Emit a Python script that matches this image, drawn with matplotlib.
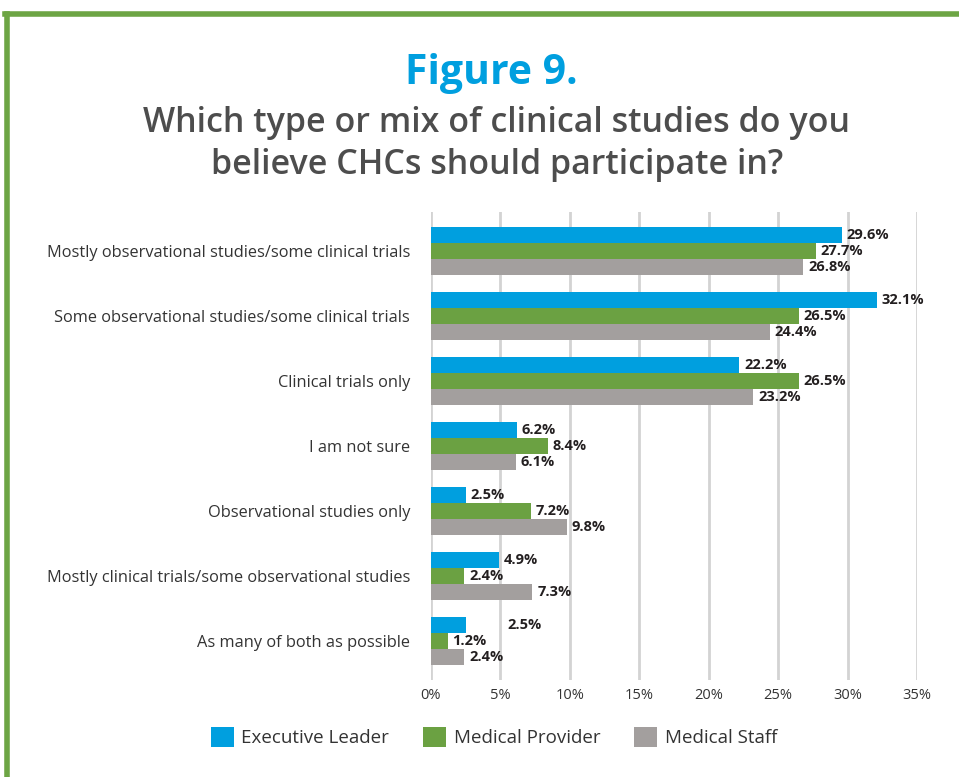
import numpy as np
import matplotlib.pyplot as plt
from matplotlib.patches import Patch

plt.rcParams['font.family'] = ['Open Sans', 'DejaVu Sans']

categories = [
    "Mostly observational studies/some clinical trials",
    "Some observational studies/some clinical trials",
    "Clinical trials only",
    "I am not sure",
    "Observational studies only",
    "Mostly clinical trials/some observational studies",
    "As many of both as possible",
]
series = ["Executive Leader", "Medical Provider", "Medical Staff"]
executive = [29.6, 32.1, 22.2, 6.2, 2.5, 4.9, 2.5]
provider = [27.7, 26.5, 26.5, 8.4, 7.2, 2.4, 1.2]
staff = [26.8, 24.4, 23.2, 6.1, 9.8, 7.3, 2.4]
xticks = [0, 5, 10, 15, 20, 25, 30, 35]

colors = ["#009FDF", "#6BA142", "#A39F9E"]

fig = plt.figure(figsize=(9.59, 7.77), dpi=100)
ax = fig.add_axes([0.4494, 0.1248, 0.5068, 0.6024])

y = np.arange(len(categories))
h = 0.245
for i, (vals, c, name) in enumerate(zip([executive, provider, staff], colors, series)):
    pos = y + (i - 1) * h
    ax.barh(pos, vals, height=h, color=c, label=name, zorder=3)
    for j, (p, v) in enumerate(zip(pos, vals)):
        pad = 0.35
        if i == 0 and j == len(categories) - 1:
            pad = 3.0
        ax.text(v + pad, p, f"{v}%", va="center", ha="left",
                fontsize=10.5, fontweight="bold", color="#231F20", zorder=4)

ax.set_xlim(0, 35)
ax.set_ylim(len(categories) - 0.4, -0.6)
ax.set_xticks(xticks)
ax.set_xticklabels([f"{t}%" for t in xticks], fontsize=10.5, color="#333333")
ax.set_yticks(y)
ax.set_yticklabels(categories, fontsize=11.8, color="#333333")
ax.tick_params(axis="both", length=0)
ax.tick_params(axis="y", pad=15)
ax.tick_params(axis="x", pad=6)
ax.grid(axis="x", color="#D3D3D3", linewidth=2, zorder=0)
for s in ax.spines.values():
    s.set_visible(False)

fig.text(0.512, 0.905, "Figure 9.", ha="center", va="center",
         fontsize=29.5, fontweight="bold", color="#009FDF")
fig.text(0.518, 0.815, "Which type or mix of clinical studies do you\nbelieve CHCs should participate in?",
         ha="center", va="center", fontsize=24.5, fontweight="semibold",
         color="#4D4D4D", linespacing=1.3)

handles = [Patch(facecolor=c, edgecolor="none") for c in colors]
fig.legend(handles, series, loc="center", bbox_to_anchor=(0.515, 0.051),
           ncol=3, frameon=False, fontsize=13.5, handlelength=1.23,
           handleheight=1.23, columnspacing=1.8, handletextpad=0.4,
           labelcolor="#333333")

# green frame on left and top edges
fig.add_artist(plt.Line2D([0.0075, 0.0075], [0, 0.982], color="#6DA544",
                          linewidth=4, transform=fig.transFigure))
fig.add_artist(plt.Line2D([0.0055, 1.0], [0.982, 0.982], color="#6DA544",
                          linewidth=4, transform=fig.transFigure))

fig.savefig("out.png", dpi=100)
